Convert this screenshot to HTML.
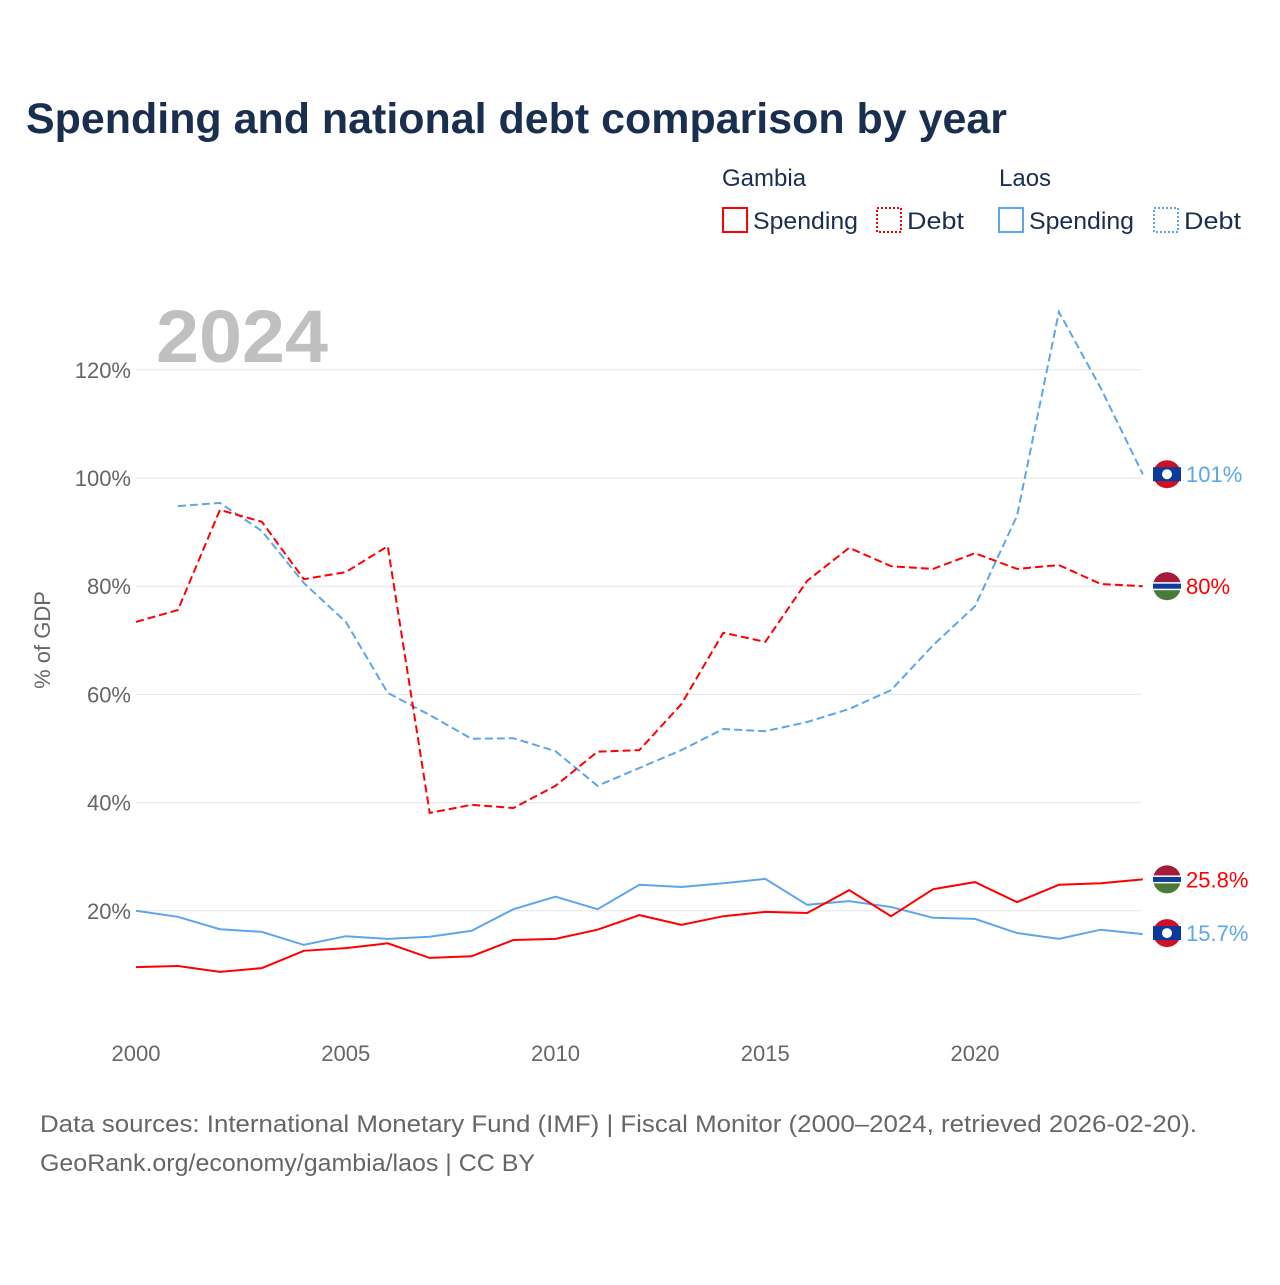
<!DOCTYPE html>
<html><head><meta charset="utf-8"><style>
body{margin:0;background:#fff;font-family:"Liberation Sans",sans-serif}
svg text{font-family:"Liberation Sans",sans-serif}
</style></head><body>
<svg id="chart" width="1280" height="1280" viewBox="0 0 1280 1280">
<text x="26" y="133" font-size="43" font-weight="bold" fill="#1a2e4f" textLength="981" lengthAdjust="spacingAndGlyphs">Spending and national debt comparison by year</text>
<g font-size="24" fill="#1a2e4f">
<text x="722" y="186">Gambia</text>
<text x="999" y="186">Laos</text>
<rect x="723" y="208" width="24" height="24" fill="none" stroke="red" stroke-width="2"/>
<text x="753" y="229" textLength="105" lengthAdjust="spacingAndGlyphs">Spending</text>
<rect x="877" y="208" width="24" height="24" fill="none" stroke="red" stroke-width="2" stroke-dasharray="2,2"/>
<text x="907" y="229" textLength="57" lengthAdjust="spacingAndGlyphs">Debt</text>
<rect x="999" y="208" width="24" height="24" fill="none" stroke="#5ea5ec" stroke-width="2"/>
<text x="1029" y="229" textLength="105" lengthAdjust="spacingAndGlyphs">Spending</text>
<rect x="1154" y="208" width="24" height="24" fill="none" stroke="#5ea5ec" stroke-width="2" stroke-dasharray="2,2"/>
<text x="1184" y="229" textLength="57" lengthAdjust="spacingAndGlyphs">Debt</text>
</g>
<text x="156" y="362" font-size="74" font-weight="bold" fill="#c0c0c0" textLength="172" lengthAdjust="spacingAndGlyphs">2024</text>
<g id="grid"></g><g id="lines"></g><g id="marks"></g>
<text transform="translate(50,640) rotate(-90)" text-anchor="middle" font-size="22" fill="#666">% of GDP</text>
<text x="40" y="1132" font-size="24" fill="#666" textLength="1157" lengthAdjust="spacingAndGlyphs">Data sources: International Monetary Fund (IMF) | Fiscal Monitor (2000–2024, retrieved 2026-02-20).</text>
<text x="40" y="1171" font-size="24" fill="#666" textLength="495" lengthAdjust="spacingAndGlyphs">GeoRank.org/economy/gambia/laos | CC BY</text>
</svg>
<script>
const years=[2000,2001,2002,2003,2004,2005,2006,2007,2008,2009,2010,2011,2012,2013,2014,2015,2016,2017,2018,2019,2020,2021,2022,2023,2024];
const gambiaDebt=[73.4,75.6,94.1,91.9,81.3,82.6,87.4,38.1,39.6,39,43.1,49.4,49.7,58.2,71.4,69.7,81,87.1,83.7,83.2,86.1,83.2,83.9,80.4,80];
const laosDebt=[null,94.8,95.4,90.2,80.6,73.4,60.3,56.2,51.8,51.9,49.5,43.1,46.4,49.7,53.6,53.2,54.9,57.3,60.8,69.1,76.3,93,130.7,116.6,100.7];
const gambiaSpending=[9.6,9.8,8.7,9.4,12.6,13.1,14,11.3,11.6,14.6,14.8,16.5,19.2,17.4,19,19.8,19.6,23.8,19,24,25.3,21.6,24.8,25.1,25.8];
const laosSpending=[20,18.9,16.6,16.1,13.7,15.3,14.8,15.2,16.3,20.3,22.6,20.3,24.8,24.4,25.1,25.9,21.1,21.8,20.7,18.7,18.5,15.9,14.8,16.5,15.7];
const yTicks=[20,40,60,80,100,120];
const xTicks=[2000,2005,2010,2015,2020];
const endLabels=["101%","80%","25.8%","15.7%"];
const NS="http://www.w3.org/2000/svg";
const X=y=>136+(y-2000)*41.95, Y=v=>1019-v*5.41;
function mk(t,p,a){const e=document.createElementNS(NS,t);for(const k in a)e.setAttribute(k,a[k]);p.appendChild(e);return e;}
const grid=document.getElementById('grid'),lines=document.getElementById('lines'),marks=document.getElementById('marks');
yTicks.forEach(v=>{
 const l=mk('line',grid,{x1:136,x2:1141,y1:Y(v),y2:Y(v),stroke:'#e6e6e6','stroke-width':1});
 
 
 const t=mk('text',grid,{x:131,y:Y(v)+8,'text-anchor':'end','font-size':22,fill:'#666'});t.textContent=v+'%';
 
 
});
xTicks.forEach(v=>{
 const t=mk('text',grid,{x:X(v),y:1061,'text-anchor':'middle','font-size':22,fill:'#666'});t.textContent=v;
 
 
});
function line(vals,color,dash,name){
 let d='';vals.forEach((v,i)=>{if(v==null)return;d+=(d?'L':'M')+X(years[i]).toFixed(1)+','+Y(v).toFixed(1);});
 const p=mk('path',lines,{d:d,fill:'none',stroke:color,'stroke-width':2,'stroke-dasharray':dash||'none'});
 
 
}
line(laosDebt,'#5ea5ec','8,4','laos-debt-line');
line(gambiaDebt,'red','8,4','gambia-debt-line');
line(laosSpending,'#5ea5ec',null,'laos-spending-line');
line(gambiaSpending,'red',null,'gambia-spending-line');
function laosFlag(cy,name){
 const g=mk('g',marks,{});
 
 
 mk('circle',g,{cx:1167,cy:cy,r:14,fill:'#ce1126'});
 mk('rect',g,{x:1153,y:cy-7,width:28,height:14,fill:'#0a3b9c'});
 mk('circle',g,{cx:1167,cy:cy,r:5,fill:'#fff'});
}
function gamFlag(cy,name){
 const g=mk('g',marks,{});
 
 
 mk('circle',g,{cx:1167,cy:cy,r:14,fill:'#4a7a3a'});
 mk('path',g,{d:`M1153,${cy} A14,14 0 0 1 1181,${cy} Z`,fill:'#a51c3a'});
 mk('rect',g,{x:1153,y:cy-4,width:28,height:8,fill:'#fff'});
 mk('rect',g,{x:1153,y:cy-2.5,width:28,height:5,fill:'#0c3c9c'});
}
const last=years.length-1;
const ends=[[laosDebt[last],'#5ea5ec',laosFlag],[gambiaDebt[last],'red',gamFlag],[gambiaSpending[last],'red',gamFlag],[laosSpending[last],'#5ea5ec',laosFlag]];
ends.forEach((e,i)=>{
 const cy=Y(e[0])+(i==3?-1:0);
 e[2](cy,'end-flag');
 const t=mk('text',marks,{x:1186,y:cy+8,'font-size':22,fill:e[1]});t.textContent=endLabels[i];
 
 
});
</script>
</body></html>
